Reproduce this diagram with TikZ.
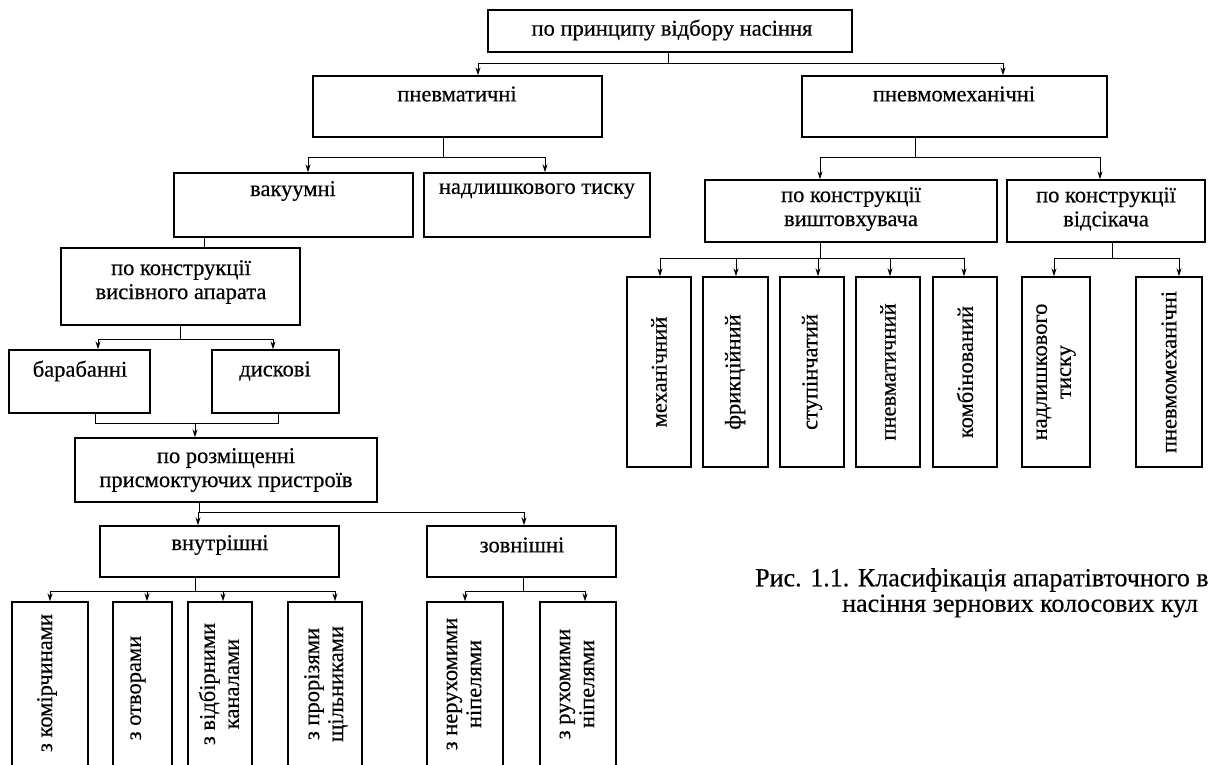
\documentclass[tikz,border=0pt]{standalone}
\usepackage{fontspec}
\setmainfont{Liberation Serif}[FakeBold=0.4]
\usetikzlibrary{calc,arrows.meta}
\newcommand\bx[5]{\node[box, minimum width={#4-#2}, minimum height={#5-#3}] (#1) at ({(#2+#4)/2},{(#3+#5)/2}) {};}
\newcommand\drop[3]{\path ([xshift=#2]#1.south) coordinate (#1d) (#1d |- 0,#3) coordinate (#1h); \draw[conn] (#1d) -- (#1h);}
\newcommand\feed[3]{\draw[arr] (#1h) -| ([xshift=#3]#2.north);}
\begin{document}
\begin{tikzpicture}[x=1pt,y=-1pt,
  box/.style={draw, line width=1.4pt, inner sep=0pt},
  txt/.style={font=\fontsize{22.5}{24}\selectfont, align=center, inner sep=0pt},
  captxt/.style={font=\fontsize{26}{26}\selectfont, inner sep=0pt, anchor=west},
  conn/.style={line width=0.9pt},
  arr/.style={conn, -{Stealth[length=8pt,width=5pt]}}
]
\useasboundingbox (0,0) rectangle (1211,765);
\clip (0,0) rectangle (1211,765);

% boxes
\bx{T}{488}{10}{852}{52}
\node[txt] (Tt) at (672,30) {по принципу відбору насіння};
\bx{P1}{313}{76}{602}{137}
\node[txt] (P1t) at (457,94) {пневматичні};
\bx{P2}{802}{76}{1107}{137}
\node[txt] (P2t) at (954,94) {пневмомеханічні};
\bx{V}{174}{173}{413}{237}
\node[txt] (Vt) at (293,191) {вакуумні};
\bx{N}{424}{173}{650}{237}
\node[txt] (Nt) at (537,191) {надлишкового тиску};
\bx{K1}{705}{180}{997}{242}
\node[txt] (K1t) at (851,209) {по конструкції\\виштовхувача};
\bx{K2}{1007}{180}{1205}{242}
\node[txt] (K2t) at (1106,209) {по конструкції\\відсікача};
\bx{W}{61}{248}{300}{325}
\node[txt] (Wt) at (181,282) {по конструкції\\висівного апарата};
\bx{B}{9}{350}{150}{413}
\node[txt] (Bt) at (80,371) {барабанні};
\bx{D}{212}{350}{339}{413}
\node[txt] (Dt) at (275,371) {дискові};
\bx{R}{75}{438}{377}{502}
\node[txt] (Rt) at (226,470) {по розміщенні\\присмоктуючих пристроїв};
\bx{I}{100}{526}{339}{577}
\node[txt] (It) at (220,545) {внутрішні};
\bx{Z}{427}{526}{616}{577}
\node[txt] (Zt) at (522,545) {зовнішні};

% bottom-left vertical boxes
\bx{b1}{12}{602}{88}{800}
\node[txt,rotate=90] (b1t) at (47,683) {з комірчинами};
\bx{b2}{113}{602}{172}{800}
\node[txt,rotate=90] (b2t) at (138,688) {з отворами};
\bx{b3}{188}{602}{252}{800}
\node[txt,rotate=90] (b3t) at (219,684) {з відбірними\\каналами};
\bx{b4}{288}{602}{362}{800}
\node[txt,rotate=90] (b4t) at (326,684) {з прорізями\\щільниками};
\bx{b5}{427}{602}{503}{800}
\node[txt,rotate=90] (b5t) at (464,684) {з нерухомими\\ніпелями};
\bx{b6}{540}{602}{616}{800}
\node[txt,rotate=90] (b6t) at (577,684) {з рухомими\\ніпелями};

% right vertical boxes
\bx{m1}{627}{277}{691}{467}
\node[txt,rotate=90] (m1t) at (659,372) {механічний};
\bx{m2}{703}{277}{768}{467}
\node[txt,rotate=90] (m2t) at (735,372) {фрикційний};
\bx{m3}{780}{277}{844}{467}
\node[txt,rotate=90] (m3t) at (812,372) {ступінчатий};
\bx{m4}{856}{277}{920}{467}
\node[txt,rotate=90] (m4t) at (888,372) {пневматичний};
\bx{m5}{933}{277}{997}{467}
\node[txt,rotate=90] (m5t) at (965,372) {комбінований};
\bx{m6}{1022}{277}{1090}{467}
\node[txt,rotate=90] (m6t) at (1056,372) {надлишкового\\тиску};
\bx{m7}{1136}{277}{1202}{467}
\node[txt,rotate=90] (m7t) at (1169,372) {пневмомеханічні};

% caption
\node[captxt] (cap1) at (755,580) {Рис. 1.1. Класифікація апаратівточного в};
\node[captxt] (cap2) at (842,606) {насіння зернових колосових кул};

% connectors
\drop{T}{-2}{63}
\feed{T}{P1}{20.5}
\feed{T}{P2}{48.5}

\drop{P1}{-14.5}{157}
\feed{P1}{V}{14.5}
\feed{P1}{N}{8}

\drop{P2}{-39.5}{157}
\feed{P2}{K1}{-31}
\feed{P2}{K2}{-6}

\path ([xshift=-89.5]V.south) coordinate (vd);
\draw[conn] (vd) -- (vd |- W.north);

\drop{W}{-0.5}{339}
\feed{W}{B}{18.5}
\feed{W}{D}{-2.5}

\path ([xshift=15.5]B.south) coordinate (bd) (bd |- 0,423) coordinate (bh);
\path ([xshift=2.5]D.south) coordinate (dd) (dd |- 0,423) coordinate (dh);
\draw[conn] (bd) -- (bh) -- (dh) -- (dd);
\path ([xshift=-31]R.north) coordinate (rn);
\draw[arr] (rn |- bh) -- (rn);

\drop{R}{-27}{512}
\feed{R}{I}{-21.5}
\feed{R}{Z}{2.5}

\drop{I}{-24.5}{591}
\feed{I}{b1}{0}
\feed{I}{b2}{4.5}
\feed{I}{b3}{3}
\feed{I}{b4}{10}

\drop{Z}{1.5}{591}
\feed{Z}{b5}{0}
\feed{Z}{b6}{7}

\drop{K1}{-31}{258}
\feed{K1}{m1}{1}
\feed{K1}{m2}{0.5}
\feed{K1}{m3}{6}
\feed{K1}{m4}{2}
\feed{K1}{m5}{-1}

\drop{K2}{6}{258}
\feed{K2}{m6}{-2}
\feed{K2}{m7}{10}
\end{tikzpicture}
\end{document}
